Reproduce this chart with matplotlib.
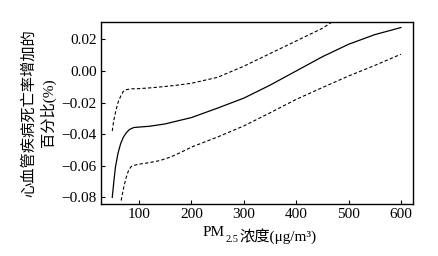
import matplotlib
matplotlib.use("Agg")
import matplotlib.pyplot as plt

plt.rcParams['font.family'] = ['Liberation Serif', 'Noto Sans CJK SC', 'DejaVu Sans']

# Estimate curve
mid_x = [49, 52, 55, 60, 65, 70, 76, 82, 90, 100, 120, 150, 200, 250, 300, 350, 400, 450, 500, 550, 600]
mid_y = [-0.080, -0.070, -0.061, -0.052, -0.046, -0.042, -0.039, -0.037, -0.0358, -0.0355, -0.035,
         -0.0335, -0.0295, -0.0235, -0.0172, -0.0090, 0.000, 0.009, 0.0169, 0.023, 0.0275]

# Upper confidence bound
up_x = [49, 52, 56, 60, 65, 70, 76, 85, 100, 125, 150, 175, 200, 250, 300, 350, 400, 450, 480]
up_y = [-0.038, -0.031, -0.025, -0.020, -0.016, -0.013, -0.0118, -0.0113, -0.0112, -0.0106,
        -0.0098, -0.0089, -0.0078, -0.0040, 0.003, 0.011, 0.019, 0.027, 0.0335]

# Lower confidence bound
lo_x = [66, 70, 75, 80, 85, 90, 100, 120, 140, 160, 180, 200, 250, 300, 350, 400, 450, 500, 550, 600]
lo_y = [-0.082, -0.075, -0.068, -0.063, -0.0605, -0.0598, -0.059, -0.0580, -0.0567, -0.0545,
        -0.0515, -0.0482, -0.0418, -0.0348, -0.0265, -0.018, -0.0105, -0.0032, 0.0035, 0.0106]

xticks = [100, 200, 300, 400, 500, 600]
yticks = [-0.08, -0.06, -0.04, -0.02, 0.00, 0.02]

fig = plt.figure(figsize=(4.38, 2.56), dpi=100)
ax = fig.add_axes([101/438, 1-204/256, (413-101)/438, (204-22)/256])

ax.plot(mid_x, mid_y, color='black', lw=0.9)
ax.plot(up_x, up_y, color='black', lw=0.8, ls=(0, (3, 2)))
ax.plot(lo_x, lo_y, color='black', lw=0.8, ls=(0, (3, 2)))

ax.set_xlim(27.5, 623)
ax.set_ylim(-0.0842, 0.031)
ax.set_xticks(xticks)
ax.set_xticklabels([str(v) for v in xticks])
ax.set_yticks(yticks)
ax.set_yticklabels([f"{v:.2f}".replace('-', '\u2212') for v in yticks])
ax.tick_params(direction='in', length=3, width=0.8, labelsize=11, pad=3)
for s in ax.spines.values():
    s.set_linewidth(1.0)

# x label built from pieces: PM, subscript 2.5, rest
t1 = fig.text(203/438, 1-236/256, 'PM', fontsize=11, ha='left', va='baseline')
t2 = ax.annotate('2.5', xy=(1, 0), xycoords=t1, xytext=(0.5, -2.5), textcoords='offset points',
                 fontsize=7.5, ha='left', va='baseline', annotation_clip=False)
t3 = ax.annotate('浓度(μg/m³)', xy=(1, 0), xycoords=t2, xytext=(0.5, 2.5), textcoords='offset points',
                 fontsize=11, ha='left', va='baseline', annotation_clip=False)

ax.set_ylabel('心血管疾病死亡率增加的\n百分比(%)', fontsize=11, labelpad=4, linespacing=1.3)

fig.savefig('out.png', dpi=100)
